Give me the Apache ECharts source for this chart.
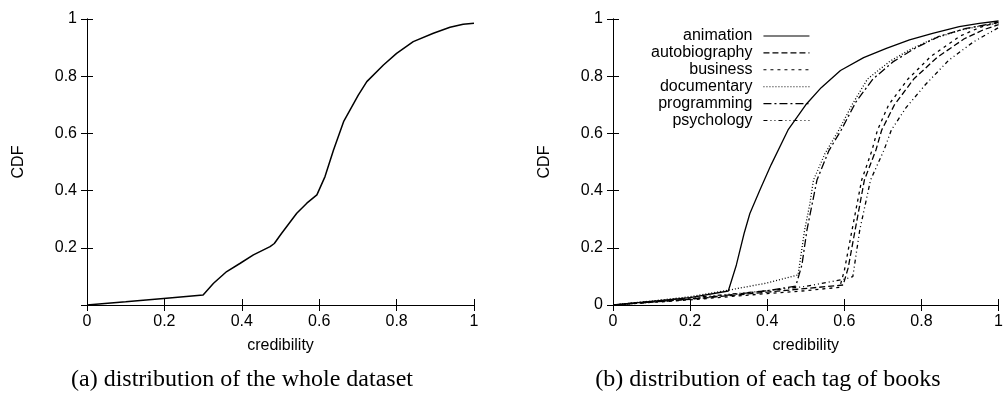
<!DOCTYPE html>
<html>
<head>
<meta charset="utf-8">
<script src="https://cdn.jsdelivr.net/npm/echarts@6/dist/echarts.min.js"></script>
<style>
  html, body { margin: 0; padding: 0; background: #fff; }
  #chart { width: 1006px; height: 394px; }
</style>
</head>
<body>
<div id="chart"></div>
<script>
// (a) whole dataset, [credibility, CDF]
const whole = [[0, 0], [0.1, 0.011], [0.198, 0.023], [0.3, 0.035], [0.327, 0.076], [0.361, 0.117],
  [0.396, 0.146], [0.43, 0.175], [0.473, 0.204], [0.484, 0.215], [0.503, 0.251], [0.542, 0.321],
  [0.568, 0.356], [0.594, 0.385], [0.615, 0.449], [0.637, 0.542], [0.663, 0.641], [0.701, 0.734],
  [0.723, 0.781], [0.766, 0.839], [0.8, 0.88], [0.843, 0.921], [0.895, 0.95], [0.938, 0.971],
  [0.972, 0.982], [1, 0.985]];

// (b) per tag
const animation = [[0, 0], [0.1, 0.013], [0.2, 0.026], [0.299, 0.049], [0.32, 0.14], [0.34, 0.25],
  [0.355, 0.32], [0.381, 0.402], [0.41, 0.49], [0.454, 0.612], [0.5, 0.7], [0.54, 0.76], [0.59, 0.82],
  [0.65, 0.865], [0.709, 0.897], [0.769, 0.927], [0.829, 0.95], [0.898, 0.973], [0.95, 0.985], [1, 0.993]];
const autobiography = [[0, 0], [0.2, 0.02], [0.4, 0.045], [0.597, 0.07], [0.61, 0.13], [0.628, 0.262],
  [0.652, 0.437], [0.682, 0.542], [0.697, 0.612], [0.73, 0.7], [0.78, 0.79], [0.84, 0.865], [0.91, 0.93],
  [0.96, 0.962], [1, 0.98]];
const business = [[0, 0], [0.2, 0.018], [0.4, 0.04], [0.5, 0.05], [0.588, 0.062], [0.6, 0.12],
  [0.62, 0.262], [0.645, 0.437], [0.672, 0.542], [0.686, 0.612], [0.715, 0.7], [0.765, 0.79], [0.825, 0.87],
  [0.9, 0.94], [0.95, 0.97], [1, 0.99]];
const documentary = [[0, 0], [0.1, 0.014], [0.2, 0.029], [0.3, 0.052], [0.4, 0.077], [0.48, 0.105],
  [0.497, 0.262], [0.51, 0.35], [0.52, 0.437], [0.55, 0.53], [0.586, 0.612], [0.62, 0.7], [0.66, 0.79],
  [0.717, 0.851], [0.769, 0.892], [0.829, 0.93], [0.898, 0.96], [0.95, 0.975], [1, 0.985]];
const programming = [[0, 0], [0.2, 0.021], [0.3, 0.035], [0.4, 0.05], [0.474, 0.066], [0.49, 0.14],
  [0.503, 0.262], [0.529, 0.437], [0.56, 0.54], [0.592, 0.612], [0.63, 0.71], [0.674, 0.79], [0.726, 0.85],
  [0.786, 0.9], [0.847, 0.94], [0.916, 0.967], [1, 0.988]];
const psychology = [[0, 0], [0.2, 0.025], [0.4, 0.05], [0.5, 0.065], [0.6, 0.09], [0.622, 0.099],
  [0.64, 0.262], [0.668, 0.437], [0.703, 0.542], [0.722, 0.612], [0.76, 0.69], [0.81, 0.77], [0.87, 0.855],
  [0.935, 0.92], [1, 0.97]];

const tags = ['animation', 'autobiography', 'business', 'documentary', 'programming', 'psychology'];
const tagData = [animation, autobiography, business, documentary, programming, psychology];
const dashes = ['solid', [6, 3], [3, 4], [1, 2], [8, 3, 2, 3], [4, 3, 1, 3, 1, 3]];

const chart = echarts.init(document.getElementById('chart'), null, { renderer: 'canvas' });

const sans = 'Liberation Sans, Arial, Helvetica, sans-serif';
const serif = '24px "Liberation Serif", "Times New Roman", serif';
const black = '#000';

function xAxes(gridIndex) {
  const base = {
    type: 'value', gridIndex, min: 0, max: 1, interval: 0.2,
    axisLine: { show: true, lineStyle: { color: black, width: 1 } },
    axisTick: { show: true, inside: true, length: 6, lineStyle: { color: black } },
    splitLine: { show: false },
  };
  return [
    {
      ...base, position: 'bottom',
      name: 'credibility', nameLocation: 'middle', nameGap: 33,
      nameTextStyle: { color: black, fontFamily: sans, fontSize: 16 },
      axisLabel: { color: black, fontFamily: sans, fontSize: 16, margin: 9 },
    },
    { ...base, position: 'top', axisLabel: { show: false } },
  ];
}

function yAxes(gridIndex, showZero) {
  const base = {
    type: 'value', gridIndex, min: 0, max: 1, interval: 0.2,
    axisLine: { show: true, lineStyle: { color: black, width: 1 } },
    axisTick: { show: true, inside: true, length: 6, lineStyle: { color: black } },
    splitLine: { show: false },
  };
  return [
    {
      ...base, position: 'left',
      name: 'CDF', nameLocation: 'middle', nameGap: 60,
      nameTextStyle: { color: black, fontFamily: sans, fontSize: 16 },
      axisLabel: { color: black, fontFamily: sans, fontSize: 16, margin: 10, showMinLabel: showZero },
    },
    { ...base, position: 'right', axisLabel: { show: false } },
  ];
}

const series = [{
  name: 'whole', type: 'line', xAxisIndex: 0, yAxisIndex: 0,
  symbol: 'none', data: whole,
  lineStyle: { color: black, width: 1.5 },
}];
tags.forEach((t, i) => {
  series.push({
    name: t, type: 'line', xAxisIndex: 2, yAxisIndex: 2,
    symbol: 'none', data: tagData[i],
    itemStyle: { color: black },
    lineStyle: { color: black, width: 1.3, type: dashes[i] },
  });
});

chart.setOption({
  animation: false,
  backgroundColor: '#fff',
  grid: [
    { left: 87, top: 19, width: 387, height: 286 },
    { left: 613, top: 19, width: 386, height: 286 },
  ],
  xAxis: [...xAxes(0), ...xAxes(1)],
  yAxis: [...yAxes(0, false), ...yAxes(1, true)],
  legend: {
    data: tags,
    orient: 'vertical', align: 'right',
    right: 196, top: 28, padding: 0,
    itemWidth: 46, itemHeight: 10, itemGap: 0.9,
    itemStyle: { opacity: 0 },
    lineStyle: { width: 1.1 },
    textStyle: { color: black, fontFamily: sans, fontSize: 16, lineHeight: 14, padding: [0, 6, 0, 0] },
  },
  graphic: [
    {
      type: 'text',
      style: { text: '(a) distribution of the whole dataset', x: 242, y: 380, align: 'center', verticalAlign: 'middle',
        fill: black, font: serif },
    },
    {
      type: 'text',
      style: { text: '(b) distribution of each tag of books', x: 768, y: 380, align: 'center', verticalAlign: 'middle',
        fill: black, font: serif },
    },
  ],
  series,
});
</script>
</body>
</html>
